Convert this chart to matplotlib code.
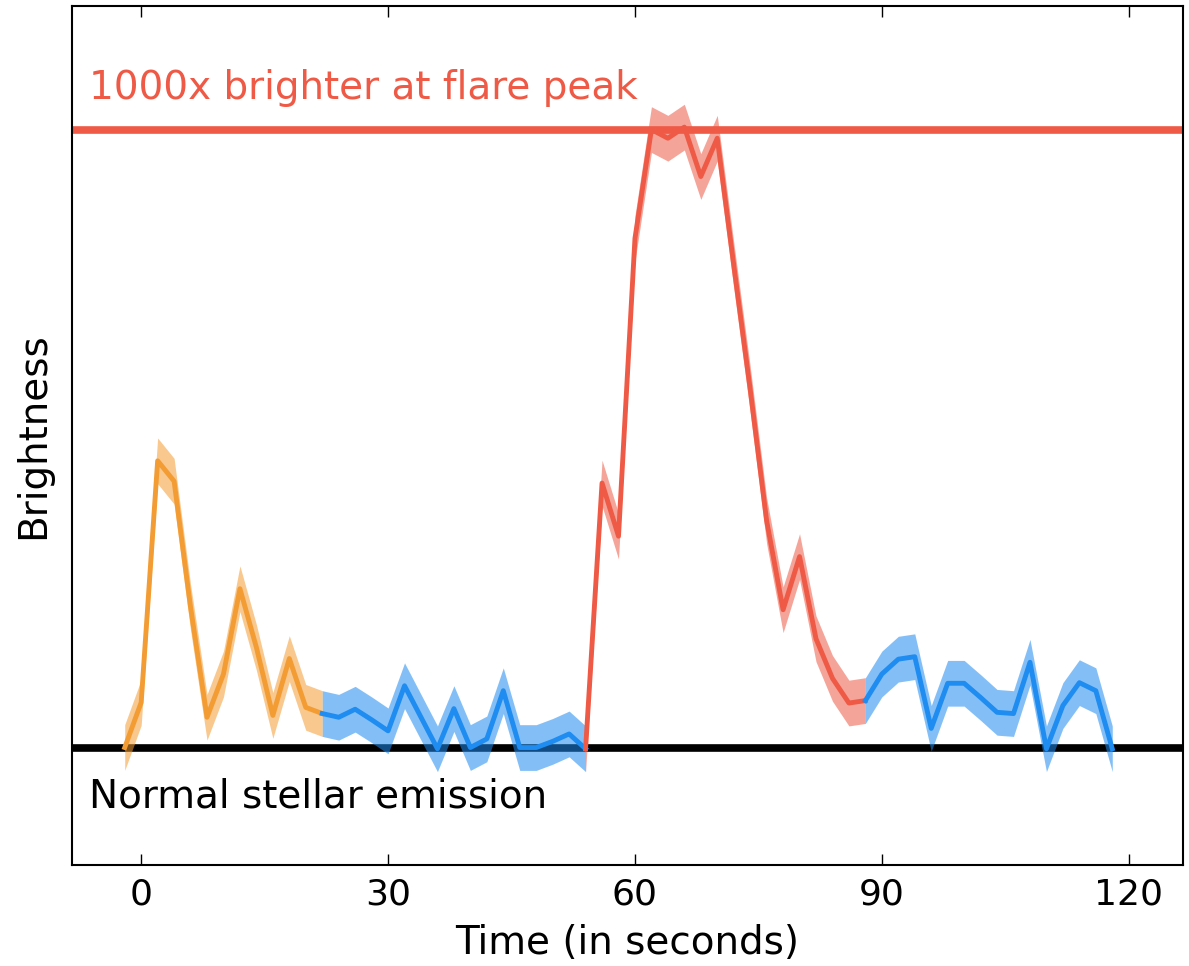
import numpy as np
import matplotlib
matplotlib.use("Agg")
import matplotlib.pyplot as plt

# time in seconds, one sample every 2 s
time = list(range(-2, 120, 2))

# brightness, normal emission = 0, flare peak = 1000
brightness = [0, 73, 464, 431, 227, 49, 119, 257, 162, 52, 144, 65,
              55, 49, 62, 45, 27, 100, 49, -2, 63, 0, 14, 92, 0, 0, 10, 22,
              -2, 428, 342, 824, 1000, 986, 1004, 924, 986, 781, 580, 367,
              223, 309, 176, 112, 72,
              76, 119, 143, 147, 31, 104, 104, 81, 57, 55, 138, -2, 68, 105, 92, -2]
err = 37

# segments: (start time, end time, colour)
segments = [(-2, 22, "#f39c33"),
            (22, 54, "#1e8cf0"),
            (54, 88, "#ee5a45"),
            (88, 118, "#1e8cf0")]

peak_level = 1000
normal_level = 0

t = np.array(time)
b = np.array(brightness)

fig = plt.figure(figsize=(11.89, 9.66), dpi=100)
ax = fig.add_axes([0.0606, 0.1046, 0.9344, 0.8892])

ax.axhline(peak_level, color="#ee5a45", lw=5.5, zorder=1)
ax.axhline(normal_level, color="black", lw=5.5, zorder=1)

for start, end, col in segments:
    m = (t >= start) & (t <= end)
    ax.fill_between(t[m], b[m] - err, b[m] + err, color=col, alpha=0.55, lw=0, zorder=2)
    ax.plot(t[m], b[m], color=col, lw=3.5, zorder=3)

ax.text(-6.4, 1050, "1000x brighter at flare peak", color="#ee5a45", fontsize=28)
ax.text(-6.4, -80, "Normal stellar emission", color="black", fontsize=28, va="center")

ax.set_xlim(-8.4, 126.6)
ax.set_ylim(-190, 1200)
ax.set_xticks([0, 30, 60, 90, 120])
ax.set_yticks([])
ax.tick_params(axis="x", direction="in", top=True, length=8, width=1, labelsize=26, pad=9)
ax.set_xlabel("Time (in seconds)", fontsize=28, labelpad=9)
ax.set_ylabel("Brightness", fontsize=28, labelpad=14)
for s in ax.spines.values():
    s.set_linewidth(1.5)

fig.savefig("out.png", dpi=100)
